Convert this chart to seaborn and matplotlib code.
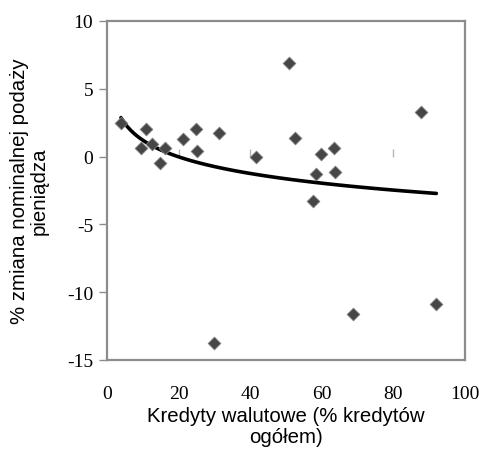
import numpy as np
import pandas as pd
import matplotlib
matplotlib.use("Agg")
import matplotlib.pyplot as plt
import seaborn as sns

# data
kredyty = [3.9, 10.9, 9.5, 12.7, 16.3, 14.9, 21.3, 24.8, 25.2, 31.2, 29.9,
           41.5, 50.7, 52.6, 57.6, 58.4, 59.7, 63.5, 63.8, 68.8, 87.8, 92.0]
zmiana = [2.5, 2.0, 0.66, 0.9, 0.6, -0.5, 1.28, 2.0, 0.42, 1.75, -13.74,
          -0.05, 6.93, 1.40, -3.3, -1.25, 0.22, 0.66, -1.13, -11.58, 3.32, -10.84]
x_ticks = [0, 20, 40, 60, 80, 100]
y_ticks = [-15, -10, -5, 0, 5, 10]
x_label = "Kredyty walutowe (% kredytów\nogółem)"
y_label = "% zmiana nominalnej podaży\npieniądza"

df = pd.DataFrame({"x": kredyty, "y": zmiana})

sns.set_style("white")
plt.rcParams["axes.unicode_minus"] = False
fig = plt.figure(figsize=(4.8, 4.52), dpi=100)
ax = fig.add_axes([107 / 480, 1 - 361 / 452, (465 - 107) / 480, (361 - 22) / 452])

sns.regplot(data=df, x="x", y="y", logx=True, ci=None, scatter=False,
            truncate=True, ax=ax, line_kws=dict(color="black", lw=2.6))
sns.scatterplot(data=df, x="x", y="y", marker="D", s=42, color="#464646",
                edgecolor="#808080", linewidth=0.6, ax=ax, zorder=3)

ax.set_xlim(0, 100)
ax.set_ylim(-15, 10)
ax.set_xticks(x_ticks)
ax.set_yticks(y_ticks)

gray = "#8c8c8c"
for s in ax.spines.values():
    s.set_color(gray)
    s.set_linewidth(1.6)

ax.tick_params(axis="y", which="both", left=True, length=6, width=1,
               color=gray, pad=4, labelsize=14, labelcolor="black")
ax.tick_params(axis="x", which="both", bottom=False, length=0, pad=18,
               labelsize=14, labelcolor="black")
for lab in ax.get_xticklabels() + ax.get_yticklabels():
    lab.set_fontfamily("Liberation Serif")

# tick marks on the horizontal axis crossing at y = 0
sec = ax.secondary_xaxis(15 / 25)
sec.set_xticks(x_ticks[1:-1])
sec.tick_params(axis="x", direction="out", length=6, width=1,
                color="#b5b5b5", labelbottom=False, labeltop=False)
sec.spines["bottom"].set_visible(False)
sec.spines["top"].set_visible(False)

ax.set_xlabel(x_label, fontfamily="Liberation Sans", fontsize=14.7,
              linespacing=1.15, labelpad=3, color="black")
ax.set_ylabel(y_label, fontfamily="Liberation Sans", fontsize=14.7,
              linespacing=1.08, labelpad=13, color="black")

fig.savefig("out.png", dpi=100)
